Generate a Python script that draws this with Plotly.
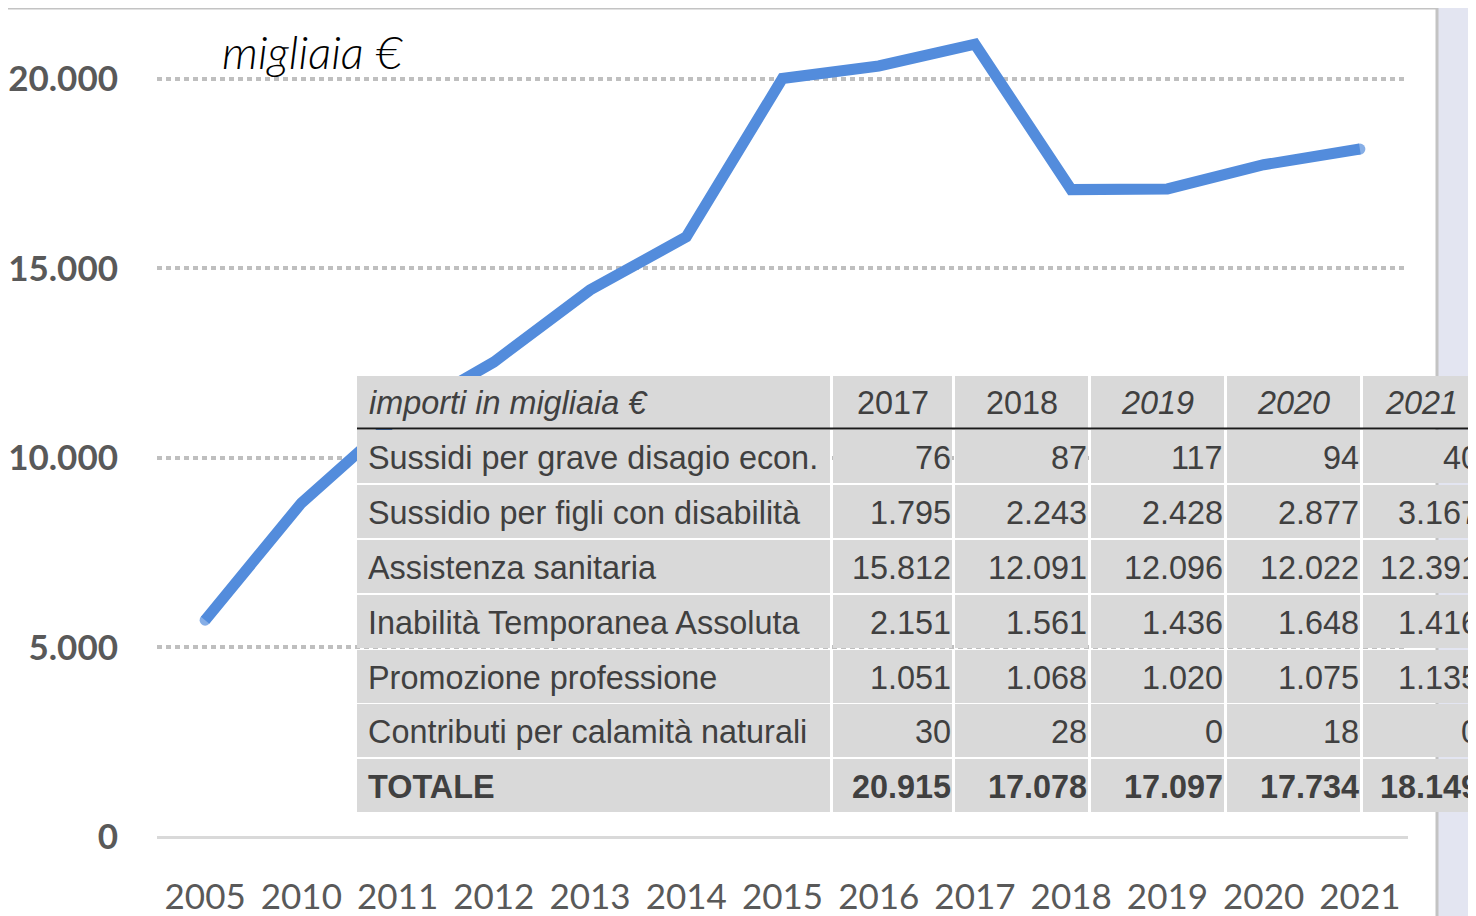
import plotly.graph_objects as go

# ---------------- data ----------------
years = ["2005", "2010", "2011", "2012", "2013", "2014", "2015", "2016",
         "2017", "2018", "2019", "2020", "2021"]
totals_line = [5720, 8810, 11070, 12530, 14430, 15830, 20010, 20340,
               20915, 17078, 17097, 17734, 18149]

y_tickvals = [0, 5000, 10000, 15000, 20000]
y_ticktext = ["0", "5.000", "10.000", "15.000", "20.000"]

table_title = "importi in migliaia €"
table_years = ["2017", "2018", "2019", "2020", "2021"]
row_labels = ["Sussidi per grave disagio econ.",
              "Sussidio per figli con disabilità",
              "Assistenza sanitaria",
              "Inabilità Temporanea Assoluta",
              "Promozione professione",
              "Contributi per calamità naturali",
              "TOTALE"]
sussidi_disagio = [76, 87, 117, 94, 40]
sussidio_figli = [1795, 2243, 2428, 2877, 3167]
assistenza_sanitaria = [15812, 12091, 12096, 12022, 12391]
inabilita_temporanea = [2151, 1561, 1436, 1648, 1416]
promozione_professione = [1051, 1068, 1020, 1075, 1135]
calamita_naturali = [30, 28, 0, 18, 0]
totale = [20915, 17078, 17097, 17734, 18149]
table_rows = [sussidi_disagio, sussidio_figli, assistenza_sanitaria,
              inabilita_temporanea, promozione_professione,
              calamita_naturali, totale]


def fmt(v):
    return f"{v:,}".replace(",", ".")


# ---------------- geometry helpers (screen pixel -> paper) ----------------
OFF = 8                      # page margin around the plot div
W, H = 1476, 916
ML, MR, MT, MB = 149, 76, 14, 87
PW, PH = W - ML - MR, H - MT - MB


def px(x):
    return (x - OFF - ML) / PW


def py(y):
    return (H - MB - (y - OFF)) / PH


TEXT = "#404040"
CELL = "#d9d9d9"
FONT_T = "Liberation Sans"
FS = 32.4

fig = go.Figure()
fig.add_trace(go.Scatter(
    x=years, y=totals_line, mode="lines+markers",
    line=dict(color="#538cdc", width=11),
    marker=dict(color="#538cdc", size=[11] + [0] * (len(years) - 2) + [11],
                line=dict(width=0)),
    hoverinfo="x+y", showlegend=False, cliponaxis=False,
))

shapes = []
# white panel with grey frame
shapes.append(dict(type="rect", xref="paper", yref="paper",
                   x0=px(2), x1=px(1437), y0=py(940), y1=py(8),
                   fillcolor="white", line=dict(color="#c3c3c3", width=3),
                   layer="below"))

# table geometry (screen pixels)
col_edges = [(357, 830), (833, 952), (955, 1088), (1091, 1224),
             (1227, 1360), (1363, 1480)]
header = (376, 428)
row_tops = [430, 485, 540, 595, 650, 704, 759]
row_h = 53

for (x0, x1) in col_edges:
    shapes.append(dict(type="rect", xref="paper", yref="paper",
                       x0=px(x0), x1=px(x1), y0=py(header[1]), y1=py(header[0]),
                       fillcolor=CELL, line=dict(width=0), layer="above"))
    for t in row_tops:
        shapes.append(dict(type="rect", xref="paper", yref="paper",
                           x0=px(x0), x1=px(x1), y0=py(t + row_h), y1=py(t),
                           fillcolor=CELL, line=dict(width=0), layer="above"))
# header rule
shapes.append(dict(type="line", xref="paper", yref="paper",
                   x0=px(357), x1=px(1490), y0=py(428.5), y1=py(428.5),
                   line=dict(color="#1a1a1a", width=2), layer="above"))

annotations = []
# unit label
annotations.append(dict(text="migliaia €", xref="paper", yref="paper",
                        x=px(220), y=py(51), xanchor="left", yanchor="middle",
                        showarrow=False,
                        font=dict(family="Lato", size=46, color="black",
                                  style="italic", weight=300)))
# header
hy = py((header[0] + header[1]) / 2 + 1)
annotations.append(dict(text=table_title, xref="paper", yref="paper",
                        x=px(367), y=hy, xanchor="left", yanchor="middle",
                        showarrow=False,
                        font=dict(family=FONT_T, size=FS, color=TEXT,
                                  style="italic")))
for i, yr in enumerate(table_years):
    x0, x1 = col_edges[i + 1]
    annotations.append(dict(text=yr, xref="paper", yref="paper",
                            x=px((x0 + x1) / 2), y=hy, xanchor="center",
                            yanchor="middle", showarrow=False,
                            font=dict(family=FONT_T, size=FS, color=TEXT,
                                      style="italic" if i >= 2 else "normal")))
# body
for r, (lab, vals) in enumerate(zip(row_labels, table_rows)):
    cy = py(row_tops[r] + row_h / 2 + 1)
    bold = lab == "TOTALE"
    annotations.append(dict(text=lab, xref="paper", yref="paper",
                            x=px(366), y=cy, xanchor="left", yanchor="middle",
                            showarrow=False,
                            font=dict(family=FONT_T, size=FS, color=TEXT,
                                      weight="bold" if bold else "normal")))
    for i, v in enumerate(vals):
        x0, x1 = col_edges[i + 1]
        annotations.append(dict(text=fmt(v), xref="paper", yref="paper",
                                x=px(x1 + 1), y=cy, xanchor="right",
                                yanchor="middle", showarrow=False,
                                font=dict(family=FONT_T, size=FS, color=TEXT,
                                          weight="bold" if bold else "normal")))

fig.update_layout(
    width=W, height=H, autosize=False,
    margin=dict(l=ML, r=MR, t=MT, b=MB, autoexpand=False),
    paper_bgcolor="#e3e5f1", plot_bgcolor="rgba(0,0,0,0)",
    shapes=shapes, annotations=annotations,
    xaxis=dict(type="category", range=[-0.5, len(years) - 0.5],
               automargin=False,
               showgrid=False, zeroline=False, showline=False, ticks="",
               tickfont=dict(family="Lato", size=35, color="#595959"),
               ticklabelstandoff=36),
    yaxis=dict(range=[0, 21500], tickvals=y_tickvals, ticktext=y_ticktext,
               automargin=False,
               showgrid=True, gridcolor="#bfbfbf", gridwidth=4,
               griddash="5px,4px",
               zeroline=True, zerolinecolor="#d9d9d9", zerolinewidth=3,
               showline=False, ticks="",
               tickfont=dict(family="Lato", size=35, color="#595959",
                             weight="bold"),
               ticklabelstandoff=38),
)

fig.write_html("out.html")
